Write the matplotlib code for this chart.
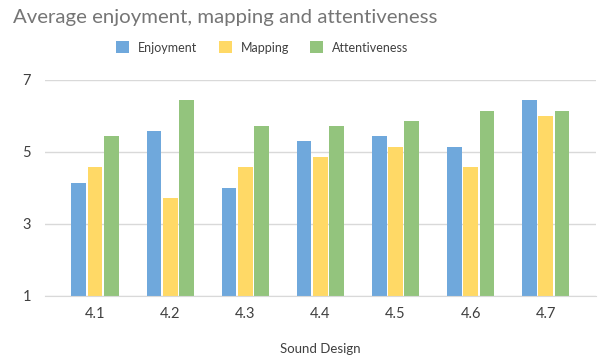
import numpy as np
import matplotlib
matplotlib.use("Agg")
import matplotlib.pyplot as plt

# ── Data ──
categories = ["4.1", "4.2", "4.3", "4.4", "4.5", "4.6", "4.7"]
enjoyment = [4.14, 5.57, 4.00, 5.29, 5.43, 5.14, 6.43]
mapping = [4.57, 3.71, 4.57, 4.86, 5.14, 4.57, 6.00]
attentiveness = [5.43, 6.43, 5.71, 5.71, 5.86, 6.14, 6.14]
series_names = ["Enjoyment", "Mapping", "Attentiveness"]
y_ticks = [1, 3, 5, 7]

COLORS = ["#6FA8DC", "#FFD966", "#93C47D"]
GRID = "#D9D9D9"
TEXT = "#404040"

plt.rcParams["font.family"] = ["Lato", "DejaVu Sans"]

fig = plt.figure(figsize=(6, 3.6), dpi=100)
ax = fig.add_axes([0.075, 0.178, 0.918, 0.6])

x = np.arange(len(categories))
pitch = 0.217
width = 0.195
for i, (name, vals) in enumerate(zip(series_names, [enjoyment, mapping, attentiveness])):
    ax.bar(x + (i - 1) * pitch, np.array(vals) - 1, bottom=1, width=width,
           color=COLORS[i], label=name, zorder=3, linewidth=0)

ax.set_ylim(1, 7)
ax.set_xlim(-0.667, len(categories) - 1 + 0.667)
ax.set_yticks(y_ticks)
ax.set_xticks(x)
ax.set_xticklabels(categories)
ax.yaxis.grid(True, color=GRID, linewidth=1, zorder=0)
ax.tick_params(length=0, labelsize=10.5, colors=TEXT)
ax.tick_params(axis="x", pad=8)
ax.tick_params(axis="y", pad=10)
for s in ["top", "right", "left"]:
    ax.spines[s].set_visible(False)
ax.spines["bottom"].set_color(GRID)
ax.spines["bottom"].set_zorder(4)

ax.set_xlabel("Sound Design", fontsize=9.5, color=TEXT, labelpad=16)

fig.text(0.021, 0.95, "Average enjoyment, mapping and attentiveness",
         fontsize=14.7, color="#757575", va="center", ha="left")
fig.legend(loc="center", bbox_to_anchor=(0.437, 0.868), ncol=3, frameon=False,
           fontsize=9, handlelength=1.05, handleheight=1.05, columnspacing=1.7,
           handletextpad=0.7, labelcolor=TEXT)

fig.savefig("out.png", dpi=100)
